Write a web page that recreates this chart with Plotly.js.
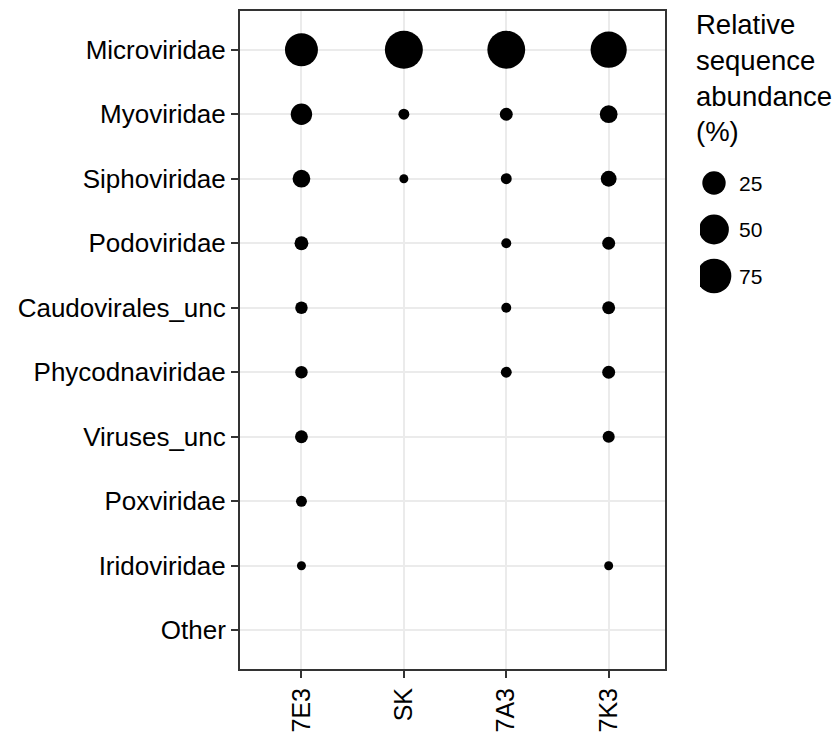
<!DOCTYPE html>
<html>
<head>
<meta charset="utf-8">
<script src="https://cdn.plot.ly/plotly-3.0.1.min.js"></script>
<style>
  html, body { margin: 0; padding: 0; background: #ffffff; }
  #chart { width: 840px; height: 735px; }
</style>
</head>
<body>
<div id="chart"></div>
<script>
// ---- Data ----
const samples = ['7E3', 'SK', '7A3', '7K3'];
const families = ['Microviridae', 'Myoviridae', 'Siphoviridae', 'Podoviridae',
  'Caudovirales_unc', 'Phycodnaviridae', 'Viruses_unc', 'Poxviridae',
  'Iridoviridae', 'Other'];
// relative sequence abundance (%) per family, one array per sample (null = absent)
const abund7E3 = [66, 19, 10, 3.6, 2.1, 2.1, 2.5, 0.9, 0.1, null];
const abundSK  = [95, 0.9, 0.1, null, null, null, null, null, null, null];
const abund7A3 = [94, 2.6, 0.9, 0.4, 0.4, 0.9, null, null, null, null];
const abund7K3 = [84, 10, 6.5, 2.6, 2.6, 2.6, 1.8, null, 0.1, null];
const legendVals = [25, 50, 75];
const legendLabels = ['25', '50', '75'];
const legendTitle = 'Relative<br>sequence<br>abundance<br>(%)';

// ---- size scale (area-style, like ggplot scale_size) ----
function diam(v) { return 8 + 30 * Math.sqrt(v / 95); }

const bySample = [abund7E3, abundSK, abund7A3, abund7K3];
const xs = [], ys = [], ss = [];
samples.forEach((s, i) => {
  bySample[i].forEach((v, j) => {
    if (v !== null && v !== undefined) {
      xs.push(s); ys.push(families[j]); ss.push(diam(v));
    }
  });
});

const FONT = '"Liberation Sans", Arial, Helvetica, sans-serif';
const W = 840, H = 735;
const ML = 240, MR = 10, MT = 11, MB = 66;
const plotW = W - ML - MR, plotH = H - MT - MB;
const px2x = p => (p - ML) / plotW;
const px2y = p => (H - MB - p) / plotH;

const traces = [
  {
    type: 'scatter', mode: 'markers',
    x: xs, y: ys, xaxis: 'x', yaxis: 'y',
    marker: { color: '#000000', opacity: 1, size: ss, sizemode: 'diameter', line: { width: 0 } },
    showlegend: false, hoverinfo: 'skip'
  },
  {
    type: 'scatter', mode: 'markers',
    x: legendVals.map(() => 14), y: legendVals, xaxis: 'x2', yaxis: 'y2',
    marker: { color: '#000000', opacity: 1, size: legendVals.map(diam), sizemode: 'diameter', line: { width: 0 } },
    showlegend: false, hoverinfo: 'skip'
  }
];

const annotations = legendVals.map((v, i) => ({
  xref: 'x2', yref: 'y2', x: 37, y: v, xanchor: 'left', yanchor: 'middle',
  text: legendLabels[i], showarrow: false,
  font: { family: FONT, size: 21, color: '#000000' }
}));
annotations.push({
  xref: 'paper', yref: 'paper', x: px2x(694), y: px2y(7),
  xanchor: 'left', yanchor: 'top', align: 'left',
  text: legendTitle, showarrow: false,
  font: { family: FONT, size: 27.5, color: '#000000' }
});

// legend axis: pixels 160..300 vertically, 700..830 horizontally
const y2top = 25 - (183 - 160) / 1.86;
const y2bot = 75 + (300 - 276) / 1.86;

const layout = {
  width: W, height: H,
  margin: { l: ML, r: MR, t: MT, b: MB, pad: 0 },
  paper_bgcolor: '#ffffff', plot_bgcolor: '#ffffff',
  font: { family: FONT, color: '#000000' },
  showlegend: false,
  xaxis: {
    domain: [0, px2x(665)],
    type: 'category', categoryorder: 'array', categoryarray: samples,
    range: [-0.6, 3.55],
    showgrid: true, gridcolor: '#EBEBEB', gridwidth: 2,
    showline: true, linecolor: '#333333', linewidth: 2, mirror: true,
    ticks: 'outside', ticklen: 7, tickwidth: 2, tickcolor: '#333333',
    tickangle: -90, tickfont: { family: FONT, size: 25, color: '#000000' },
    zeroline: false, fixedrange: true
  },
  yaxis: {
    domain: [0, 1],
    type: 'category', categoryorder: 'array', categoryarray: families,
    range: [9.6, -0.6],
    showgrid: true, gridcolor: '#EBEBEB', gridwidth: 2,
    showline: true, linecolor: '#333333', linewidth: 2, mirror: true,
    ticks: 'outside', ticklen: 7, tickwidth: 2, tickcolor: '#333333',
    tickfont: { family: FONT, size: 26, color: '#000000' },
    zeroline: false, fixedrange: true
  },
  xaxis2: {
    domain: [px2x(700), px2x(830)], anchor: 'y2', range: [0, 130],
    visible: false, fixedrange: true
  },
  yaxis2: {
    domain: [px2y(300), px2y(160)], anchor: 'x2', range: [y2bot, y2top],
    visible: false, fixedrange: true
  },
  annotations: annotations
};

Plotly.newPlot('chart', traces, layout, { staticPlot: true, displayModeBar: false });
</script>
</body>
</html>
